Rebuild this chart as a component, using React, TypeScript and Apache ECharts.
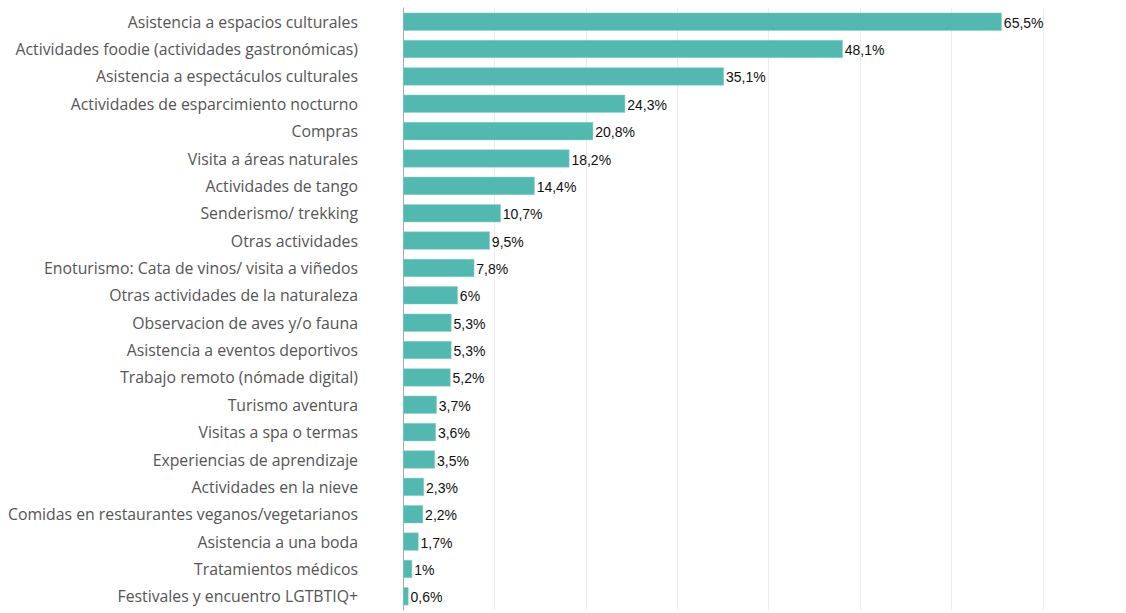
import React, { useEffect, useRef } from "react";
import * as echarts from "echarts";

const categories: string[] = [
  "Asistencia a espacios culturales",
  "Actividades foodie (actividades gastronómicas)",
  "Asistencia a espectáculos culturales",
  "Actividades de esparcimiento nocturno",
  "Compras",
  "Visita a áreas naturales",
  "Actividades de tango",
  "Senderismo/ trekking",
  "Otras actividades",
  "Enoturismo: Cata de vinos/ visita a viñedos",
  "Otras actividades de la naturaleza",
  "Observacion de aves y/o fauna",
  "Asistencia a eventos deportivos",
  "Trabajo remoto (nómade digital)",
  "Turismo aventura",
  "Visitas a spa o termas",
  "Experiencias de aprendizaje",
  "Actividades en la nieve",
  "Comidas en restaurantes veganos/vegetarianos",
  "Asistencia a una boda",
  "Tratamientos médicos",
  "Festivales y encuentro LGTBTIQ+",
];

const values: number[] = [
  65.5, 48.1, 35.1, 24.3, 20.8, 18.2, 14.4, 10.7, 9.5, 7.8, 6, 5.3, 5.3, 5.2,
  3.7, 3.6, 3.5, 2.3, 2.2, 1.7, 1, 0.6,
];

export default function App() {
  const ref = useRef<HTMLDivElement>(null);
  useEffect(() => {
    if (!ref.current) return;
    const chart = echarts.init(ref.current, null, { renderer: "svg" });
    chart.setOption({
      animation: false,
      grid: { left: 403, right: 83, top: 8, bottom: 3, containLabel: false },
      xAxis: {
        type: "value",
        min: 0,
        max: 70,
        interval: 10,
        axisLabel: { show: false },
        axisLine: { show: false },
        axisTick: { show: false },
        splitLine: { show: true, lineStyle: { color: "#ececec", width: 1 } },
      },
      yAxis: {
        type: "category",
        inverse: true,
        data: categories,
        axisLine: { show: true, lineStyle: { color: "#a8a8a8", width: 1 } },
        axisTick: { show: false },
        axisLabel: {
          margin: 45,
          fontFamily: "Open Sans",
          fontSize: 15.8,
          color: "#555555",
        },
      },
      series: [
        {
          type: "bar",
          data: values,
          barCategoryGap: "34%",
          itemStyle: { color: "#52b8b0", borderColor: "#8fd3cd", borderWidth: 0.5 },
          label: {
            show: true,
            position: "right",
            distance: 2,
            offset: [0, 1],
            fontFamily: "Liberation Sans",
            fontSize: 14,
            color: "#111111",
            formatter: (p: any) => String(p.value).replace(".", ",") + "%",
          },
        },
      ],
    });
    return () => chart.dispose();
  }, []);
  return (
    <div
      ref={ref}
      style={{ position: "fixed", left: 0, top: 0, width: 1126, height: 613, background: "#fff" }}
    />
  );
}
